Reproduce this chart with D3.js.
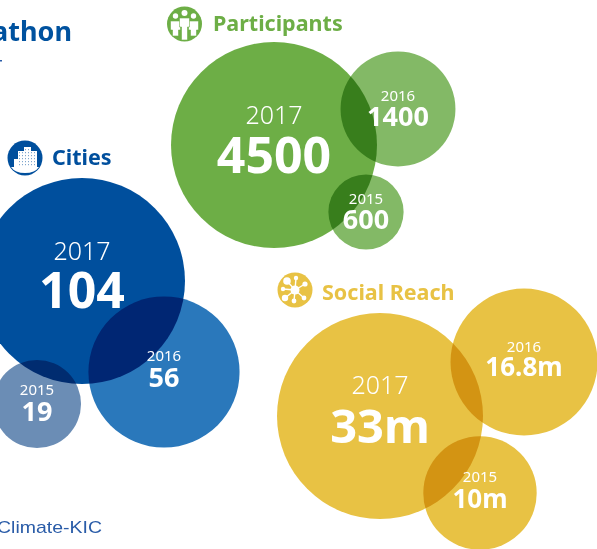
<!DOCTYPE html>
<html>
<head>
<meta charset="utf-8">
<script src="https://cdn.jsdelivr.net/npm/d3@7"></script>
<style>
html, body { margin: 0; padding: 0; background: #fff; overflow: hidden; }
svg { display: block; font-family: "Noto Sans", sans-serif; }
</style>
</head>
<body>
<div id="chart"></div>
<script>
const width = 597, height = 549;

// values
const categories = ["Participants", "Cities", "Social Reach"];
const years = ["2017", "2016", "2015"];
const participants = [4500, 1400, 600];
const cities = [104, 56, 19];
const socialReach = [33, 16.8, 10];
const participantLabels = ["4500", "1400", "600"];
const cityLabels = ["104", "56", "19"];
const socialLabels = ["33m", "16.8m", "10m"];

// placement of the bubbles, same order as years
const centers = {
  "Participants": [[274, 145], [398, 109], [366, 212]],
  "Cities": [[82, 281], [164, 372], [37, 404]],
  "Social Reach": [[380, 416], [524, 362], [480, 493]]
};
const fills = {
  "Participants": ["#6dae46", "#83b966", "#83b966"],
  "Cities": ["#004f9d", "#2a78bb", "#6b8db5"],
  "Social Reach": ["#e8c244", "#e8c244", "#e8c244"]
};
const headColor = { "Participants": "#6dae46", "Cities": "#004f9d", "Social Reach": "#e8c244" };
const headPos = {
  "Participants": { icon: [184.5, 24], x: 213, y: 31 },
  "Cities": { icon: [25, 158], x: 52, y: 165 },
  "Social Reach": { icon: [295, 290], x: 322, y: 300 }
};
// baseline offsets from the bubble centre: [year, value]
const labelDy = {
  "Participants": [[-21, 28], [-8, 17], [-8, 17]],
  "Cities": [[-21, 27], [-11, 15], [-9, 17]],
  "Social Reach": [[-22, 27], [-10, 14], [-11, 15]]
};
// value font sizes: [big bubble, small bubbles]
const valueSize = { "Participants": [50, 27], "Cities": [50, 27], "Social Reach": [47, 26] };

const seriesOf = { "Participants": participants, "Cities": cities, "Social Reach": socialReach };
const labelsOf = { "Participants": participantLabels, "Cities": cityLabels, "Social Reach": socialLabels };

const svg = d3.select("#chart").append("svg")
  .attr("width", width)
  .attr("height", height);

// title, cut off by the crop on the left
svg.append("text")
  .attr("x", 72).attr("y", 41)
  .attr("text-anchor", "end")
  .attr("font-size", 27).attr("font-weight", 700)
  .attr("fill", "#00529f")
  .text("Climathon");
svg.append("rect")
  .attr("x", 0).attr("y", 60).attr("width", 2).attr("height", 1.5)
  .attr("fill", "#2a5ca8");

categories.forEach(cat => {
  const values = seriesOf[cat];
  const r = d3.scaleSqrt().domain([0, d3.max(values)]).range([0, 103]);
  const rows = values.map((v, i) => ({
    v, year: years[i], label: labelsOf[cat][i],
    c: centers[cat][i], fill: fills[cat][i], dy: labelDy[cat][i], main: i === 0
  }));
  const g = svg.append("g");

  g.selectAll("circle").data(rows).join("circle")
    .attr("cx", d => d.c[0])
    .attr("cy", d => d.c[1])
    .attr("r", d => r(d.v))
    .attr("fill", d => d.fill)
    .style("mix-blend-mode", "multiply");

  g.selectAll(".year").data(rows).join("text")
    .attr("class", "year")
    .attr("x", d => d.c[0])
    .attr("y", d => d.c[1] + d.dy[0])
    .attr("text-anchor", "middle")
    .attr("fill", "#fff")
    .attr("font-weight", d => d.main ? 300 : 400)
    .attr("font-size", d => d.main ? 25 : 15)
    .text(d => d.year);

  g.selectAll(".value").data(rows).join("text")
    .attr("class", "value")
    .attr("x", d => d.c[0])
    .attr("y", d => d.c[1] + d.dy[1])
    .attr("text-anchor", "middle")
    .attr("fill", "#fff")
    .attr("font-weight", 700)
    .attr("font-size", d => d.main ? valueSize[cat][0] : valueSize[cat][1])
    .text(d => d.label);

  const head = headPos[cat];
  svg.append("text")
    .attr("x", head.x).attr("y", head.y)
    .attr("font-size", 21.5).attr("font-weight", 700)
    .attr("fill", headColor[cat])
    .text(cat);
  drawIcon(cat, head.icon, headColor[cat]);
});

function drawIcon(cat, pos, color) {
  const g = svg.append("g").attr("transform", `translate(${pos[0]},${pos[1]})`);
  g.append("circle").attr("r", 17.5).attr("fill", color);
  if (cat === "Participants") {
    [[-9, -5, 0.9], [9, -5, 0.9], [0, -8, 1]].forEach(p => {
      g.append("circle").attr("cx", p[0]).attr("cy", p[1] - 3).attr("r", 3 * p[2]).attr("fill", "#fff");
      g.append("path")
        .attr("d", `M${p[0] - 5},${p[1] + 2}h10v9h-2v${p[0] === 0 ? 13 : 6}h-6v${p[0] === 0 ? -13 : -6}h-2z`)
        .attr("fill", "#fff").attr("stroke", color).attr("stroke-width", 0.6);
    });
  } else if (cat === "Cities") {
    [[-11, 1, 5, 8], [-7, -7, 7, 16], [-1, -11, 7, 20], [6, -7, 6, 16]].forEach(b => {
      g.append("rect").attr("x", b[0]).attr("y", b[1]).attr("width", b[2]).attr("height", b[3]).attr("fill", "#fff");
    });
    g.append("path").attr("d", "M-14,9h28q-4,6 -14,6t-14,-6z").attr("fill", "#fff");
    d3.range(-9, 9, 3).forEach(y => d3.range(-6, 10, 3).forEach(x => {
      if (y > -8 || (x > -3 && x < 5)) {
        g.append("rect").attr("x", x).attr("y", y).attr("width", 1).attr("height", 1.2).attr("fill", color).attr("fill-opacity", 0.5);
      }
    }));
  } else {
    const spokes = [[-8, -9, 3.8], [1, -12, 2.2], [10, -6, 2.6], [9, 8, 2.4], [-1, 11, 2.4], [-10, 8, 3.2], [-12, -1, 2.2]];
    spokes.forEach(s => {
      g.append("line").attr("x1", 0).attr("y1", 0).attr("x2", s[0]).attr("y2", s[1])
        .attr("stroke", "#fff").attr("stroke-width", 1.4);
      g.append("circle").attr("cx", s[0]).attr("cy", s[1]).attr("r", s[2]).attr("fill", "#fff");
    });
    g.append("circle").attr("r", 4.5).attr("fill", "#fff");
  }
}

// logo, cut off by the crop on the left
svg.append("text")
  .attr("x", -3).attr("y", 533)
  .attr("font-family", "'Liberation Sans', sans-serif")
  .attr("font-size", 17)
  .attr("textLength", 105)
  .attr("lengthAdjust", "spacingAndGlyphs")
  .attr("fill", "#2a5ca8")
  .text("Climate-KIC");
</script>
</body>
</html>
